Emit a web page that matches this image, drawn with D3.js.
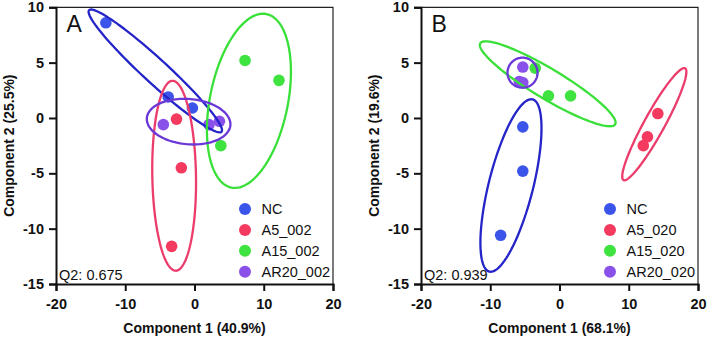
<!DOCTYPE html>
<html>
<head>
<meta charset="utf-8">
<script src="https://cdn.jsdelivr.net/npm/d3@7"></script>
<style>
  body { margin: 0; background: #fff; }
  svg text { font-family: Arial, "Liberation Sans", sans-serif; }
</style>
</head>
<body>
<div id="chart"></div>
<script>
const W = 708, H = 337;

// groups and colours
const groups = ["NC", "A5", "A15", "AR20"];
const pointColors = ["#3b55ea", "#f43a5e", "#3fe33f", "#8a50ea"];
const ringColors = ["#2424c8", "#ec3c6c", "#38e038", "#6a38d6"];

// tick labels
const xTicks = [-20, -10, 0, 10, 20];
const yTicks = [10, 5, 0, -5, -10, -15];

// panel A
const labelsA = ["NC", "A5_002", "A15_002", "AR20_002"];
const scoresA = [
  [[-12.8, 8.6], [-3.8, 1.9], [-0.3, 0.9]],
  [[-2.6, -0.1], [-1.9, -4.5], [-3.3, -11.6]],
  [[7.3, 5.2], [12.2, 3.4], [3.8, -2.5]],
  [[-4.5, -0.6], [2.1, -0.6], [3.6, -0.3]]
];
// ellipses: centre, one end of the long axis, short/long ratio
const ellipsesA = [
  { cx: -5.66, cy: 4.25, tx: 3.9, ty: -1.24, ratio: 0.135 },
  { cx: -2.94, cy: -5.22, tx: -2.7, ty: -13.8, ratio: 0.23 },
  { cx: 7.86, cy: 1.55, tx: 10.39, ty: 9.39, ratio: 0.44 },
  { cx: -0.85, cy: -0.33, tx: 5.18, ty: -0.66, ratio: 0.54 }
];

// panel B
const labelsB = ["NC", "A5_020", "A15_020", "AR20_020"];
const scoresB = [
  [[-5.3, -0.8], [-5.3, -4.8], [-8.5, -10.6]],
  [[14.2, 0.4], [12.7, -1.7], [12.1, -2.5]],
  [[-3.5, 4.5], [-1.6, 2.0], [1.6, 2.0]],
  [[-5.3, 4.6], [-5.8, 3.3], [-5.3, 3.2]]
];
const ellipsesB = [
  { cx: -7.01, cy: -6.1, tx: -10.14, ty: -13.88, ratio: 0.25 },
  { cx: 13.69, cy: -0.56, tx: 18.14, ty: 4.49, ratio: 0.16 },
  { cx: -1.7, cy: 3.09, tx: 8.04, ty: -0.57, ratio: 0.19 },
  { cx: -5.34, cy: 4.09, tx: -3.17, ty: 4.09, ratio: 1 }
];

const panels = [
  { letter: "A", left: 56, labels: labelsA, scores: scoresA, ellipses: ellipsesA,
    xTitle: "Component 1 (40.9%)", yTitle: "Component 2 (25.5%)", q2: "Q2: 0.675" },
  { letter: "B", left: 421, labels: labelsB, scores: scoresB, ellipses: ellipsesB,
    xTitle: "Component 1 (68.1%)", yTitle: "Component 2 (19.6%)", q2: "Q2: 0.939" }
];

const svg = d3.select("#chart").append("svg")
  .attr("width", W).attr("height", H);

const plotTop = 7.3, plotBottom = 284, plotW = 277;

panels.forEach(p => {
  const x = d3.scaleLinear().domain([-20, 20]).range([p.left, p.left + plotW]);
  const y = d3.scaleLinear().domain([-15, 10]).range([plotBottom, plotTop]);
  const g = svg.append("g");

  // frame top/right
  g.append("path")
    .attr("d", `M${x(-20)},${y(10)}H${x(20)}V${y(-15)}`)
    .attr("fill", "none").attr("stroke", "#222").attr("stroke-width", 1.2);

  const xAxis = g.append("g").attr("transform", `translate(0,${plotBottom})`)
    .call(d3.axisBottom(x).tickValues(xTicks).tickFormat(d => String(d))
      .tickSize(7).tickPadding(8));
  const yAxis = g.append("g").attr("transform", `translate(${p.left},0)`)
    .call(d3.axisLeft(y).tickValues(yTicks).tickFormat(d => String(d))
      .tickSize(7).tickPadding(5));
  [xAxis, yAxis].forEach(a => {
    a.select(".domain").attr("stroke", "#111").attr("stroke-width", 2);
    a.selectAll(".tick line").attr("stroke", "#111").attr("stroke-width", 2);
    a.selectAll(".tick text")
      .attr("fill", "#111")
      .style("font-family", "Arial, 'Liberation Sans', sans-serif")
      .style("font-size", "14.5px").style("font-weight", "bold");
  });

  // points
  p.scores.forEach((pts, gi) => {
    g.append("g").selectAll("circle").data(pts).enter().append("circle")
      .attr("cx", d => x(d[0])).attr("cy", d => y(d[1]))
      .attr("r", 5.8).attr("fill", pointColors[gi]);
  });

  // ellipses
  p.ellipses.forEach((e, gi) => {
    const c = [x(e.cx), y(e.cy)];
    const a = [x(e.tx) - c[0], y(e.ty) - c[1]];
    const b = [-a[1] * e.ratio, a[0] * e.ratio];
    const pts = d3.range(0, 2 * Math.PI, Math.PI / 60).map(t =>
      [c[0] + Math.cos(t) * a[0] + Math.sin(t) * b[0],
       c[1] + Math.cos(t) * a[1] + Math.sin(t) * b[1]]);
    g.append("path")
      .attr("d", d3.line().curve(d3.curveLinearClosed)(pts))
      .attr("fill", "none").attr("stroke", ringColors[gi]).attr("stroke-width", 2.3);
  });

  // panel letter
  g.append("text").attr("x", x(-20) + 10.5).attr("y", 32.3)
    .style("font-size", "23px").attr("fill", "#111").text(p.letter);

  // legend
  const lg = g.append("g");
  p.labels.forEach((lab, i) => {
    const ly = 209 + i * 20.9;
    lg.append("circle").attr("cx", x(20) - 88).attr("cy", ly).attr("r", 6)
      .attr("fill", pointColors[i]);
    lg.append("text").attr("x", x(20) - 71.5).attr("y", ly + 5.2)
      .style("font-size", "14.5px").attr("fill", "#111").text(lab);
  });

  // Q2
  g.append("text").attr("x", x(-20) + 3).attr("y", 280)
    .style("font-size", "14.5px").attr("fill", "#111").text(p.q2);

  // axis titles
  g.append("text").attr("x", x(0)).attr("y", 333)
    .attr("text-anchor", "middle").style("font-size", "14px").style("font-weight", "bold")
    .attr("fill", "#111").text(p.xTitle);
  g.append("text")
    .attr("transform", `translate(${p.left - 42.5},${y(-2.5)}) rotate(-90)`)
    .attr("text-anchor", "middle").style("font-size", "14px").style("font-weight", "bold")
    .attr("fill", "#111").text(p.yTitle);
});
</script>
</body>
</html>
